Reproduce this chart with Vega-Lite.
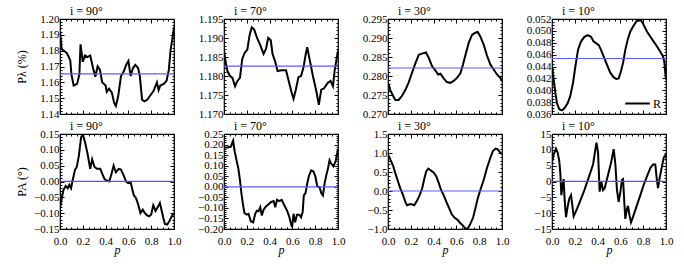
{
"$schema":"https://vega.github.io/schema/vega-lite/v6.json",
"background":"white",
"padding":{"left":14,"top":3,"right":2,"bottom":2},
"config":{
 "view":{"stroke":"black","strokeWidth":1.2},
 "axis":{"domain":false,"grid":false,"labelFont":"Liberation Serif","labelFontSize":11,"labelColor":"black","tickColor":"black","tickWidth":1,"titleFont":"Liberation Serif","titleFontSize":12,"titleFontWeight":"normal","titleColor":"black","labelOverlap":false,"labelFlush":false,"minExtent":0},
 "axisX":{"labelPadding":10,"titlePadding":-4},
 "axisY":{"labelPadding":5,"titlePadding":14},
 "style":{"group-title":{"font":"Liberation Serif","fontSize":12,"fontWeight":"normal","fill":"black"}},
 "title":{"anchor":"start","dx":10,"offset":-4.5,"font":"Liberation Serif","fontSize":12,"fontWeight":"normal","color":"black","frame":"group"},
 "legend":{"labelFont":"Liberation Serif","labelFontSize":12,"labelColor":"black","symbolStrokeWidth":2,"symbolSize":600,"symbolType":"stroke","orient":"bottom-right","offset":4,"padding":0,"labelOffset":2}
},
"datasets":{
"P90":[{"p":0,"v":1.192},{"p":0.015,"v":1.181},{"p":0.06,"v":1.1785},{"p":0.09,"v":1.174},{"p":0.1,"v":1.165},{"p":0.12,"v":1.158},{"p":0.15,"v":1.159},{"p":0.17,"v":1.165},{"p":0.18,"v":1.184},{"p":0.2,"v":1.173},{"p":0.22,"v":1.177},{"p":0.24,"v":1.176},{"p":0.265,"v":1.177},{"p":0.29,"v":1.169},{"p":0.31,"v":1.1635},{"p":0.33,"v":1.17},{"p":0.35,"v":1.168},{"p":0.37,"v":1.16},{"p":0.4,"v":1.158},{"p":0.41,"v":1.154},{"p":0.43,"v":1.156},{"p":0.455,"v":1.1535},{"p":0.475,"v":1.147},{"p":0.49,"v":1.145},{"p":0.51,"v":1.151},{"p":0.535,"v":1.164},{"p":0.56,"v":1.167},{"p":0.58,"v":1.171},{"p":0.6,"v":1.1735},{"p":0.62,"v":1.164},{"p":0.64,"v":1.169},{"p":0.66,"v":1.171},{"p":0.685,"v":1.169},{"p":0.7,"v":1.164},{"p":0.72,"v":1.149},{"p":0.74,"v":1.148},{"p":0.765,"v":1.149},{"p":0.795,"v":1.152},{"p":0.82,"v":1.1545},{"p":0.85,"v":1.16},{"p":0.865,"v":1.155},{"p":0.88,"v":1.158},{"p":0.91,"v":1.159},{"p":0.935,"v":1.161},{"p":0.955,"v":1.168},{"p":0.97,"v":1.1805},{"p":0.985,"v":1.187},{"p":1,"v":1.195}],
"P70":[{"p":0,"v":1.1867},{"p":0.015,"v":1.1836},{"p":0.03,"v":1.1813},{"p":0.053,"v":1.18},{"p":0.074,"v":1.1795},{"p":0.097,"v":1.1773},{"p":0.118,"v":1.1787},{"p":0.14,"v":1.1795},{"p":0.16,"v":1.1845},{"p":0.18,"v":1.186},{"p":0.205,"v":1.187},{"p":0.226,"v":1.191},{"p":0.244,"v":1.1928},{"p":0.265,"v":1.1922},{"p":0.29,"v":1.19},{"p":0.32,"v":1.188},{"p":0.347,"v":1.1858},{"p":0.368,"v":1.1871},{"p":0.388,"v":1.19},{"p":0.41,"v":1.1894},{"p":0.426,"v":1.1858},{"p":0.447,"v":1.184},{"p":0.47,"v":1.1813},{"p":0.506,"v":1.1815},{"p":0.544,"v":1.1815},{"p":0.565,"v":1.179},{"p":0.59,"v":1.176},{"p":0.61,"v":1.174},{"p":0.63,"v":1.1764},{"p":0.653,"v":1.1797},{"p":0.676,"v":1.18},{"p":0.697,"v":1.1822},{"p":0.715,"v":1.1854},{"p":0.73,"v":1.1876},{"p":0.75,"v":1.1845},{"p":0.78,"v":1.18},{"p":0.81,"v":1.176},{"p":0.832,"v":1.1724},{"p":0.853,"v":1.1764},{"p":0.876,"v":1.1767},{"p":0.91,"v":1.1782},{"p":0.935,"v":1.1787},{"p":0.956,"v":1.1773},{"p":0.97,"v":1.1813},{"p":0.985,"v":1.184},{"p":1,"v":1.1867}],
"P30":[{"p":0,"v":0.2782},{"p":0.02,"v":0.2763},{"p":0.044,"v":0.2748},{"p":0.064,"v":0.2737},{"p":0.094,"v":0.2737},{"p":0.123,"v":0.2748},{"p":0.152,"v":0.2763},{"p":0.18,"v":0.2782},{"p":0.21,"v":0.2808},{"p":0.24,"v":0.2833},{"p":0.27,"v":0.2856},{"p":0.298,"v":0.2859},{"p":0.333,"v":0.2862},{"p":0.357,"v":0.2848},{"p":0.386,"v":0.2826},{"p":0.415,"v":0.2815},{"p":0.44,"v":0.2804},{"p":0.46,"v":0.2806},{"p":0.49,"v":0.2793},{"p":0.517,"v":0.2784},{"p":0.547,"v":0.2782},{"p":0.576,"v":0.2787},{"p":0.605,"v":0.2795},{"p":0.635,"v":0.2807},{"p":0.658,"v":0.283},{"p":0.68,"v":0.2856},{"p":0.708,"v":0.2887},{"p":0.737,"v":0.2908},{"p":0.766,"v":0.2914},{"p":0.787,"v":0.2916},{"p":0.81,"v":0.2904},{"p":0.84,"v":0.2882},{"p":0.868,"v":0.2854},{"p":0.898,"v":0.283},{"p":0.927,"v":0.2817},{"p":0.956,"v":0.2804},{"p":0.985,"v":0.2795},{"p":1,"v":0.2787}],
"P10":[{"p":0,"v":0.0443},{"p":0.015,"v":0.0418},{"p":0.03,"v":0.0395},{"p":0.044,"v":0.0378},{"p":0.064,"v":0.0368},{"p":0.088,"v":0.0366},{"p":0.11,"v":0.037},{"p":0.137,"v":0.0378},{"p":0.16,"v":0.039},{"p":0.184,"v":0.0412},{"p":0.205,"v":0.044},{"p":0.228,"v":0.0468},{"p":0.254,"v":0.0482},{"p":0.284,"v":0.049},{"p":0.313,"v":0.0493},{"p":0.342,"v":0.049},{"p":0.365,"v":0.0482},{"p":0.39,"v":0.0479},{"p":0.41,"v":0.0476},{"p":0.43,"v":0.0468},{"p":0.453,"v":0.0457},{"p":0.482,"v":0.0443},{"p":0.51,"v":0.043},{"p":0.54,"v":0.0422},{"p":0.564,"v":0.0419},{"p":0.585,"v":0.042},{"p":0.605,"v":0.0432},{"p":0.623,"v":0.0446},{"p":0.643,"v":0.0468},{"p":0.664,"v":0.0485},{"p":0.687,"v":0.0499},{"p":0.71,"v":0.0507},{"p":0.74,"v":0.0516},{"p":0.763,"v":0.0518},{"p":0.784,"v":0.0517},{"p":0.804,"v":0.051},{"p":0.833,"v":0.0499},{"p":0.863,"v":0.049},{"p":0.892,"v":0.0482},{"p":0.92,"v":0.0474},{"p":0.95,"v":0.0465},{"p":0.974,"v":0.0457},{"p":0.985,"v":0.0448},{"p":0.994,"v":0.0429},{"p":1,"v":0.0418}],
"A90":[{"p":0,"v":-0.0857},{"p":0.015,"v":-0.0536},{"p":0.03,"v":-0.0268},{"p":0.05,"v":-0.0139},{"p":0.068,"v":-0.0214},{"p":0.082,"v":-0.0107},{"p":0.097,"v":-0.0214},{"p":0.112,"v":0.0054},{"p":0.132,"v":0.0375},{"p":0.147,"v":0.046},{"p":0.165,"v":0.08},{"p":0.185,"v":0.139},{"p":0.2,"v":0.15},{"p":0.22,"v":0.123},{"p":0.24,"v":0.091},{"p":0.265,"v":0.04},{"p":0.282,"v":0.07},{"p":0.303,"v":0.046},{"p":0.324,"v":0.04},{"p":0.353,"v":0.04},{"p":0.374,"v":0.0214},{"p":0.391,"v":0.0075},{"p":0.41,"v":0.0032},{"p":0.432,"v":0},{"p":0.45,"v":0.0214},{"p":0.47,"v":0.05},{"p":0.49,"v":0.029},{"p":0.515,"v":0.04},{"p":0.535,"v":0.0375},{"p":0.56,"v":0.018},{"p":0.58,"v":0},{"p":0.6,"v":-0.0054},{"p":0.62,"v":-0.003},{"p":0.632,"v":-0.0214},{"p":0.647,"v":-0.043},{"p":0.668,"v":-0.0536},{"p":0.685,"v":-0.0718},{"p":0.706,"v":-0.0996},{"p":0.726,"v":-0.089},{"p":0.744,"v":-0.0996},{"p":0.765,"v":-0.107},{"p":0.782,"v":-0.11},{"p":0.8,"v":-0.104},{"p":0.818,"v":-0.075},{"p":0.838,"v":-0.093},{"p":0.859,"v":-0.08},{"p":0.876,"v":-0.0675},{"p":0.891,"v":-0.091},{"p":0.906,"v":-0.1146},{"p":0.92,"v":-0.134},{"p":0.941,"v":-0.136},{"p":0.962,"v":-0.123},{"p":0.98,"v":-0.11},{"p":1,"v":-0.0996}],
"A70":[{"p":0,"v":0.186},{"p":0.03,"v":0.186},{"p":0.06,"v":0.19},{"p":0.08,"v":0.218},{"p":0.094,"v":0.166},{"p":0.11,"v":0.126},{"p":0.126,"v":0.086},{"p":0.14,"v":0.031},{"p":0.153,"v":-0.033},{"p":0.168,"v":-0.089},{"p":0.18,"v":-0.125},{"p":0.2,"v":-0.132},{"p":0.215,"v":-0.128},{"p":0.235,"v":-0.163},{"p":0.256,"v":-0.168},{"p":0.274,"v":-0.128},{"p":0.288,"v":-0.113},{"p":0.303,"v":-0.116},{"p":0.318,"v":-0.097},{"p":0.332,"v":-0.136},{"p":0.347,"v":-0.109},{"p":0.368,"v":-0.093},{"p":0.388,"v":-0.084},{"p":0.41,"v":-0.073},{"p":0.435,"v":-0.068},{"p":0.45,"v":-0.097},{"p":0.465,"v":-0.062},{"p":0.485,"v":-0.068},{"p":0.506,"v":-0.062},{"p":0.53,"v":-0.089},{"p":0.553,"v":-0.113},{"p":0.574,"v":-0.144},{"p":0.588,"v":-0.176},{"p":0.597,"v":-0.192},{"p":0.61,"v":-0.128},{"p":0.624,"v":-0.168},{"p":0.64,"v":-0.132},{"p":0.66,"v":-0.132},{"p":0.676,"v":-0.144},{"p":0.69,"v":-0.12},{"p":0.7,"v":-0.041},{"p":0.715,"v":-0.03},{"p":0.73,"v":0.015},{"p":0.744,"v":0.05},{"p":0.765,"v":0.078},{"p":0.785,"v":0.073},{"p":0.803,"v":0.046},{"p":0.818,"v":0.002},{"p":0.838,"v":-0.001},{"p":0.853,"v":-0.03},{"p":0.868,"v":-0.041},{"p":0.882,"v":0.015},{"p":0.897,"v":0.054},{"p":0.912,"v":0.086},{"p":0.926,"v":0.126},{"p":0.94,"v":0.11},{"p":0.96,"v":0.097},{"p":0.98,"v":0.123},{"p":1,"v":0.177}],
"A30":[{"p":0,"v":0.964},{"p":0.02,"v":0.83},{"p":0.044,"v":0.67},{"p":0.064,"v":0.47},{"p":0.088,"v":0.25},{"p":0.108,"v":0.07},{"p":0.132,"v":-0.107},{"p":0.152,"v":-0.286},{"p":0.167,"v":-0.375},{"p":0.19,"v":-0.35},{"p":0.21,"v":-0.35},{"p":0.23,"v":-0.375},{"p":0.254,"v":-0.26},{"p":0.278,"v":-0.107},{"p":0.3,"v":0.07},{"p":0.32,"v":0.34},{"p":0.336,"v":0.52},{"p":0.354,"v":0.59},{"p":0.377,"v":0.536},{"p":0.4,"v":0.49},{"p":0.424,"v":0.384},{"p":0.444,"v":0.223},{"p":0.465,"v":0.027},{"p":0.488,"v":-0.107},{"p":0.512,"v":-0.286},{"p":0.538,"v":-0.464},{"p":0.56,"v":-0.616},{"p":0.585,"v":-0.705},{"p":0.61,"v":-0.759},{"p":0.635,"v":-0.848},{"p":0.658,"v":-0.91},{"p":0.68,"v":-0.99},{"p":0.7,"v":-0.99},{"p":0.722,"v":-0.866},{"p":0.746,"v":-0.705},{"p":0.766,"v":-0.464},{"p":0.787,"v":-0.196},{"p":0.81,"v":0.027},{"p":0.84,"v":0.295},{"p":0.868,"v":0.607},{"p":0.898,"v":0.875},{"p":0.92,"v":1.05},{"p":0.945,"v":1.116},{"p":0.962,"v":1.098},{"p":0.98,"v":1.027},{"p":1,"v":0.964}],
"A10":[{"p":0,"v":5.9},{"p":0.015,"v":8.57},{"p":0.035,"v":10.4},{"p":0.05,"v":9.1},{"p":0.064,"v":6.4},{"p":0.073,"v":2.7},{"p":0.082,"v":-4.3},{"p":0.094,"v":-1.1},{"p":0.102,"v":0.75},{"p":0.111,"v":-5.9},{"p":0.123,"v":-11.25},{"p":0.137,"v":-8},{"p":0.152,"v":-5.4},{"p":0.167,"v":-4.3},{"p":0.18,"v":-8},{"p":0.19,"v":-11},{"p":0.22,"v":-8.6},{"p":0.25,"v":-5.9},{"p":0.284,"v":-2.7},{"p":0.32,"v":1.07},{"p":0.36,"v":5.36},{"p":0.39,"v":12.3},{"p":0.404,"v":9.1},{"p":0.418,"v":-3.2},{"p":0.433,"v":0},{"p":0.447,"v":-2.7},{"p":0.462,"v":-2.1},{"p":0.488,"v":1.6},{"p":0.518,"v":5.9},{"p":0.541,"v":10.2},{"p":0.556,"v":5.4},{"p":0.57,"v":-2.7},{"p":0.585,"v":-6.4},{"p":0.6,"v":-3.2},{"p":0.614,"v":0.54},{"p":0.623,"v":0.75},{"p":0.635,"v":-7},{"p":0.643,"v":-11.8},{"p":0.658,"v":-8.6},{"p":0.667,"v":-7.7},{"p":0.68,"v":-10.7},{"p":0.693,"v":-12.9},{"p":0.71,"v":-11.25},{"p":0.74,"v":-8},{"p":0.775,"v":-4.3},{"p":0.804,"v":-1.1},{"p":0.833,"v":1.6},{"p":0.863,"v":4.3},{"p":0.886,"v":5.4},{"p":0.906,"v":5.4},{"p":0.92,"v":0.54},{"p":0.93,"v":-2.1},{"p":0.944,"v":1.07},{"p":0.965,"v":4.8},{"p":0.98,"v":7.5},{"p":0.994,"v":8.25},{"p":1,"v":7.5}],
"means":[{"panel":"P90","m":1.1653},{"panel":"P70","m":1.1826},{"panel":"P30","m":0.2821},{"panel":"P10","m":0.04535},{"panel":"A90","m":0.0005},{"panel":"A70","m":0},{"panel":"A30","m":0},{"panel":"A10","m":0.05}]
},
"columns":4,
"spacing":{"row":20,"column":50},
"bounds":"flush",
"resolve":{"scale":{"color":"independent"},"legend":{"color":"independent"}},
"concat":[
{"width":114,"height":95,"title":{"text":"i = 90°","anchor":"start","frame":"group","dx":10,"offset":-4.5,"font":"Liberation Serif","fontSize":12,"fontWeight":"normal"},
 "layer":[
  {"data":{"name":"P90"},"mark":{"type":"line","color":"black","strokeWidth":2,"clip":true},
   "encoding":{
    "x":{"field":"p","type":"quantitative","scale":{"domain":[0,1],"nice":false},"axis":{"orient":"bottom","tickCount":20,"labels":false,"title":null,"tickSize":{"condition":{"test":"abs(datum.value/0.2-round(datum.value/0.2))<1e-6","value":-4},"value":-2}}},
    "y":{"field":"v","type":"quantitative","scale":{"domain":[1.14,1.2],"nice":false,"zero":false},"axis":{"orient":"left","tickCount":30,"title":"Pλ (%)","titleX":-32,"labelExpr":"abs(datum.value/0.01-round(datum.value/0.01))<1e-6 ? format(datum.value,'.2f') : ''","tickSize":{"condition":{"test":"abs(datum.value/0.01-round(datum.value/0.01))<1e-6","value":-4},"value":-2}}}}},
  {"data":{"name":"P90"},"mark":{"type":"line","opacity":0},
   "encoding":{
    "x":{"field":"p","type":"quantitative","axis":{"orient":"top","tickCount":20,"labels":false,"title":null,"tickSize":{"condition":{"test":"abs(datum.value/0.2-round(datum.value/0.2))<1e-6","value":-4},"value":-2}}},
    "y":{"field":"v","type":"quantitative","axis":{"orient":"right","tickCount":30,"labels":false,"title":null,"tickSize":{"condition":{"test":"abs(datum.value/0.01-round(datum.value/0.01))<1e-6","value":-4},"value":-2}}}}},
  {"data":{"name":"means"},"transform":[{"filter":"datum.panel=='P90'"}],"mark":{"type":"rule","color":"#5c5cff","strokeWidth":1.2},
   "encoding":{"y":{"field":"m","type":"quantitative","axis":null}}}
 ],
 "resolve":{"axis":{"x":"independent","y":"independent"}}},
{"width":114,"height":95,"title":{"text":"i = 70°","anchor":"start","frame":"group","dx":10,"offset":-4.5,"font":"Liberation Serif","fontSize":12,"fontWeight":"normal"},
 "layer":[
  {"data":{"name":"P70"},"mark":{"type":"line","color":"black","strokeWidth":2,"clip":true},
   "encoding":{
    "x":{"field":"p","type":"quantitative","scale":{"domain":[0,1],"nice":false},"axis":{"orient":"bottom","tickCount":20,"labels":false,"title":null,"tickSize":{"condition":{"test":"abs(datum.value/0.2-round(datum.value/0.2))<1e-6","value":-4},"value":-2}}},
    "y":{"field":"v","type":"quantitative","scale":{"domain":[1.17,1.195],"nice":false,"zero":false},"axis":{"orient":"left","tickCount":25,"title":null,"labelExpr":"abs(datum.value/0.005-round(datum.value/0.005))<1e-6 ? format(datum.value,'.3f') : ''","tickSize":{"condition":{"test":"abs(datum.value/0.005-round(datum.value/0.005))<1e-6","value":-4},"value":-2}}}}},
  {"data":{"name":"P70"},"mark":{"type":"line","opacity":0},
   "encoding":{
    "x":{"field":"p","type":"quantitative","axis":{"orient":"top","tickCount":20,"labels":false,"title":null,"tickSize":{"condition":{"test":"abs(datum.value/0.2-round(datum.value/0.2))<1e-6","value":-4},"value":-2}}},
    "y":{"field":"v","type":"quantitative","axis":{"orient":"right","tickCount":25,"labels":false,"title":null,"tickSize":{"condition":{"test":"abs(datum.value/0.005-round(datum.value/0.005))<1e-6","value":-4},"value":-2}}}}},
  {"data":{"name":"means"},"transform":[{"filter":"datum.panel=='P70'"}],"mark":{"type":"rule","color":"#5c5cff","strokeWidth":1.2},
   "encoding":{"y":{"field":"m","type":"quantitative","axis":null}}}
 ],
 "resolve":{"axis":{"x":"independent","y":"independent"}}},
{"width":114,"height":95,"title":{"text":"i = 30°","anchor":"start","frame":"group","dx":10,"offset":-4.5,"font":"Liberation Serif","fontSize":12,"fontWeight":"normal"},
 "layer":[
  {"data":{"name":"P30"},"mark":{"type":"line","color":"black","strokeWidth":2,"clip":true},
   "encoding":{
    "x":{"field":"p","type":"quantitative","scale":{"domain":[0,1],"nice":false},"axis":{"orient":"bottom","tickCount":20,"labels":false,"title":null,"tickSize":{"condition":{"test":"abs(datum.value/0.2-round(datum.value/0.2))<1e-6","value":-4},"value":-2}}},
    "y":{"field":"v","type":"quantitative","scale":{"domain":[0.27,0.295],"nice":false,"zero":false},"axis":{"orient":"left","tickCount":25,"title":null,"labelExpr":"abs(datum.value/0.005-round(datum.value/0.005))<1e-6 ? format(datum.value,'.3f') : ''","tickSize":{"condition":{"test":"abs(datum.value/0.005-round(datum.value/0.005))<1e-6","value":-4},"value":-2}}}}},
  {"data":{"name":"P30"},"mark":{"type":"line","opacity":0},
   "encoding":{
    "x":{"field":"p","type":"quantitative","axis":{"orient":"top","tickCount":20,"labels":false,"title":null,"tickSize":{"condition":{"test":"abs(datum.value/0.2-round(datum.value/0.2))<1e-6","value":-4},"value":-2}}},
    "y":{"field":"v","type":"quantitative","axis":{"orient":"right","tickCount":25,"labels":false,"title":null,"tickSize":{"condition":{"test":"abs(datum.value/0.005-round(datum.value/0.005))<1e-6","value":-4},"value":-2}}}}},
  {"data":{"name":"means"},"transform":[{"filter":"datum.panel=='P30'"}],"mark":{"type":"rule","color":"#5c5cff","strokeWidth":1.2},
   "encoding":{"y":{"field":"m","type":"quantitative","axis":null}}}
 ],
 "resolve":{"axis":{"x":"independent","y":"independent"}}},
{"width":114,"height":95,"title":{"text":"i = 10°","anchor":"start","frame":"group","dx":10,"offset":-4.5,"font":"Liberation Serif","fontSize":12,"fontWeight":"normal"},
 "layer":[
  {"data":{"name":"P10"},"mark":{"type":"line","color":"black","strokeWidth":2,"clip":true},
   "encoding":{
    "x":{"field":"p","type":"quantitative","scale":{"domain":[0,1],"nice":false},"axis":{"orient":"bottom","tickCount":20,"labels":false,"title":null,"tickSize":{"condition":{"test":"abs(datum.value/0.2-round(datum.value/0.2))<1e-6","value":-4},"value":-2}}},
    "y":{"field":"v","type":"quantitative","scale":{"domain":[0.036,0.052],"nice":false,"zero":false},"axis":{"orient":"left","tickCount":32,"title":null,"labelExpr":"abs(datum.value/0.002-round(datum.value/0.002))<1e-6 ? format(datum.value,'.3f') : ''","tickSize":{"condition":{"test":"abs(datum.value/0.002-round(datum.value/0.002))<1e-6","value":-4},"value":-2}}},
    "color":{"datum":"R","type":"nominal","scale":{"range":["black"]},"legend":{"title":null}}}},
  {"data":{"name":"P10"},"mark":{"type":"line","opacity":0},
   "encoding":{
    "x":{"field":"p","type":"quantitative","axis":{"orient":"top","tickCount":20,"labels":false,"title":null,"tickSize":{"condition":{"test":"abs(datum.value/0.2-round(datum.value/0.2))<1e-6","value":-4},"value":-2}}},
    "y":{"field":"v","type":"quantitative","axis":{"orient":"right","tickCount":32,"labels":false,"title":null,"tickSize":{"condition":{"test":"abs(datum.value/0.002-round(datum.value/0.002))<1e-6","value":-4},"value":-2}}}}},
  {"data":{"name":"means"},"transform":[{"filter":"datum.panel=='P10'"}],"mark":{"type":"rule","color":"#5c5cff","strokeWidth":1.2},
   "encoding":{"y":{"field":"m","type":"quantitative","axis":null}}}
 ],
 "resolve":{"axis":{"x":"independent","y":"independent"}}},
{"width":114,"height":95,"title":{"text":"i = 90°","anchor":"start","frame":"group","dx":10,"offset":-4.5,"font":"Liberation Serif","fontSize":12,"fontWeight":"normal"},
 "layer":[
  {"data":{"name":"A90"},"mark":{"type":"line","color":"black","strokeWidth":2,"clip":true},
   "encoding":{
    "x":{"field":"p","type":"quantitative","scale":{"domain":[0,1],"nice":false},"axis":{"orient":"bottom","tickCount":20,"title":"p","titleFontStyle":"italic","labelExpr":"abs(datum.value/0.2-round(datum.value/0.2))<1e-6 ? format(datum.value,'.1f') : ''","tickSize":{"condition":{"test":"abs(datum.value/0.2-round(datum.value/0.2))<1e-6","value":-4},"value":-2}}},
    "y":{"field":"v","type":"quantitative","scale":{"domain":[-0.15,0.15],"nice":false,"zero":false},"axis":{"orient":"left","tickCount":30,"title":"PA (°)","titleX":-32,"labelExpr":"abs(datum.value/0.05-round(datum.value/0.05))<1e-6 ? format(datum.value,'.2f') : ''","tickSize":{"condition":{"test":"abs(datum.value/0.05-round(datum.value/0.05))<1e-6","value":-4},"value":-2}}}}},
  {"data":{"name":"A90"},"mark":{"type":"line","opacity":0},
   "encoding":{
    "x":{"field":"p","type":"quantitative","axis":{"orient":"top","tickCount":20,"labels":false,"title":null,"tickSize":{"condition":{"test":"abs(datum.value/0.2-round(datum.value/0.2))<1e-6","value":-4},"value":-2}}},
    "y":{"field":"v","type":"quantitative","axis":{"orient":"right","tickCount":30,"labels":false,"title":null,"tickSize":{"condition":{"test":"abs(datum.value/0.05-round(datum.value/0.05))<1e-6","value":-4},"value":-2}}}}},
  {"data":{"name":"means"},"transform":[{"filter":"datum.panel=='A90'"}],"mark":{"type":"rule","color":"#4f4fff","strokeWidth":1.4},
   "encoding":{"y":{"field":"m","type":"quantitative","axis":null}}}
 ],
 "resolve":{"axis":{"x":"independent","y":"independent"}}},
{"width":114,"height":95,"title":{"text":"i = 70°","anchor":"start","frame":"group","dx":10,"offset":-4.5,"font":"Liberation Serif","fontSize":12,"fontWeight":"normal"},
 "layer":[
  {"data":{"name":"A70"},"mark":{"type":"line","color":"black","strokeWidth":2,"clip":true},
   "encoding":{
    "x":{"field":"p","type":"quantitative","scale":{"domain":[0,1],"nice":false},"axis":{"orient":"bottom","tickCount":20,"title":"p","titleFontStyle":"italic","labelExpr":"abs(datum.value/0.2-round(datum.value/0.2))<1e-6 ? format(datum.value,'.1f') : ''","tickSize":{"condition":{"test":"abs(datum.value/0.2-round(datum.value/0.2))<1e-6","value":-4},"value":-2}}},
    "y":{"field":"v","type":"quantitative","scale":{"domain":[-0.2,0.25],"nice":false,"zero":false},"axis":{"orient":"left","tickCount":45,"title":null,"labelExpr":"abs(datum.value/0.05-round(datum.value/0.05))<1e-6 ? format(datum.value,'.2f') : ''","tickSize":{"condition":{"test":"abs(datum.value/0.05-round(datum.value/0.05))<1e-6","value":-4},"value":-2}}}}},
  {"data":{"name":"A70"},"mark":{"type":"line","opacity":0},
   "encoding":{
    "x":{"field":"p","type":"quantitative","axis":{"orient":"top","tickCount":20,"labels":false,"title":null,"tickSize":{"condition":{"test":"abs(datum.value/0.2-round(datum.value/0.2))<1e-6","value":-4},"value":-2}}},
    "y":{"field":"v","type":"quantitative","axis":{"orient":"right","tickCount":45,"labels":false,"title":null,"tickSize":{"condition":{"test":"abs(datum.value/0.05-round(datum.value/0.05))<1e-6","value":-4},"value":-2}}}}},
  {"data":{"name":"means"},"transform":[{"filter":"datum.panel=='A70'"}],"mark":{"type":"rule","color":"#5c5cff","strokeWidth":1.2},
   "encoding":{"y":{"field":"m","type":"quantitative","axis":null}}}
 ],
 "resolve":{"axis":{"x":"independent","y":"independent"}}},
{"width":114,"height":95,"title":{"text":"i = 30°","anchor":"start","frame":"group","dx":10,"offset":-4.5,"font":"Liberation Serif","fontSize":12,"fontWeight":"normal"},
 "layer":[
  {"data":{"name":"A30"},"mark":{"type":"line","color":"black","strokeWidth":2,"clip":true},
   "encoding":{
    "x":{"field":"p","type":"quantitative","scale":{"domain":[0,1],"nice":false},"axis":{"orient":"bottom","tickCount":20,"title":"p","titleFontStyle":"italic","labelExpr":"abs(datum.value/0.2-round(datum.value/0.2))<1e-6 ? format(datum.value,'.1f') : ''","tickSize":{"condition":{"test":"abs(datum.value/0.2-round(datum.value/0.2))<1e-6","value":-4},"value":-2}}},
    "y":{"field":"v","type":"quantitative","scale":{"domain":[-1,1.5],"nice":false,"zero":false},"axis":{"orient":"left","tickCount":25,"title":null,"labelExpr":"abs(datum.value/0.5-round(datum.value/0.5))<1e-6 ? format(datum.value,'.1f') : ''","tickSize":{"condition":{"test":"abs(datum.value/0.5-round(datum.value/0.5))<1e-6","value":-4},"value":-2}}}}},
  {"data":{"name":"A30"},"mark":{"type":"line","opacity":0},
   "encoding":{
    "x":{"field":"p","type":"quantitative","axis":{"orient":"top","tickCount":20,"labels":false,"title":null,"tickSize":{"condition":{"test":"abs(datum.value/0.2-round(datum.value/0.2))<1e-6","value":-4},"value":-2}}},
    "y":{"field":"v","type":"quantitative","axis":{"orient":"right","tickCount":25,"labels":false,"title":null,"tickSize":{"condition":{"test":"abs(datum.value/0.5-round(datum.value/0.5))<1e-6","value":-4},"value":-2}}}}},
  {"data":{"name":"means"},"transform":[{"filter":"datum.panel=='A30'"}],"mark":{"type":"rule","color":"#5c5cff","strokeWidth":1.2},
   "encoding":{"y":{"field":"m","type":"quantitative","axis":null}}}
 ],
 "resolve":{"axis":{"x":"independent","y":"independent"}}},
{"width":114,"height":95,"title":{"text":"i = 10°","anchor":"start","frame":"group","dx":10,"offset":-4.5,"font":"Liberation Serif","fontSize":12,"fontWeight":"normal"},
 "layer":[
  {"data":{"name":"A10"},"mark":{"type":"line","color":"black","strokeWidth":2,"clip":true},
   "encoding":{
    "x":{"field":"p","type":"quantitative","scale":{"domain":[0,1],"nice":false},"axis":{"orient":"bottom","tickCount":20,"title":"p","titleFontStyle":"italic","labelExpr":"abs(datum.value/0.2-round(datum.value/0.2))<1e-6 ? format(datum.value,'.1f') : ''","tickSize":{"condition":{"test":"abs(datum.value/0.2-round(datum.value/0.2))<1e-6","value":-4},"value":-2}}},
    "y":{"field":"v","type":"quantitative","scale":{"domain":[-15,15],"nice":false,"zero":false},"axis":{"orient":"left","tickCount":30,"title":null,"labelExpr":"abs(datum.value/5-round(datum.value/5))<1e-6 ? format(datum.value,'d') : ''","tickSize":{"condition":{"test":"abs(datum.value/5-round(datum.value/5))<1e-6","value":-4},"value":-2}}}}},
  {"data":{"name":"A10"},"mark":{"type":"line","opacity":0},
   "encoding":{
    "x":{"field":"p","type":"quantitative","axis":{"orient":"top","tickCount":20,"labels":false,"title":null,"tickSize":{"condition":{"test":"abs(datum.value/0.2-round(datum.value/0.2))<1e-6","value":-4},"value":-2}}},
    "y":{"field":"v","type":"quantitative","axis":{"orient":"right","tickCount":30,"labels":false,"title":null,"tickSize":{"condition":{"test":"abs(datum.value/5-round(datum.value/5))<1e-6","value":-4},"value":-2}}}}},
  {"data":{"name":"means"},"transform":[{"filter":"datum.panel=='A10'"}],"mark":{"type":"rule","color":"#4f4fff","strokeWidth":1.4},
   "encoding":{"y":{"field":"m","type":"quantitative","axis":null}}}
 ],
 "resolve":{"axis":{"x":"independent","y":"independent"}}}
]
}
